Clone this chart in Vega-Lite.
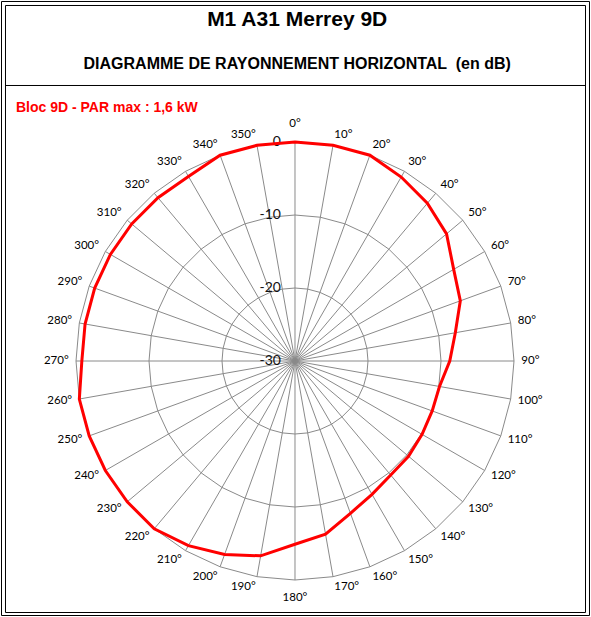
{
  "$schema": "https://vega.github.io/schema/vega-lite/v6.json",
  "width": 591,
  "height": 617,
  "autosize": "none",
  "padding": 0,
  "background": "white",
  "config": {"view": {"stroke": null}},
  "datasets": {
    "pattern": [
      {"angle": 0, "db": 0}, {"angle": 10, "db": 0}, {"angle": 20, "db": 0},
      {"angle": 30, "db": -0.9}, {"angle": 40, "db": -1.8}, {"angle": 50, "db": -2.9},
      {"angle": 60, "db": -4.9}, {"angle": 70, "db": -5.9}, {"angle": 80, "db": -7.7},
      {"angle": 90, "db": -8.8}, {"angle": 100, "db": -9.9}, {"angle": 110, "db": -10},
      {"angle": 120, "db": -9.9}, {"angle": 130, "db": -9.7}, {"angle": 140, "db": -9.6},
      {"angle": 150, "db": -8.9}, {"angle": 160, "db": -7.8}, {"angle": 170, "db": -5.9},
      {"angle": 180, "db": -4.9}, {"angle": 190, "db": -2.9}, {"angle": 200, "db": -1.8},
      {"angle": 210, "db": -0.8}, {"angle": 220, "db": 0}, {"angle": 230, "db": 0},
      {"angle": 240, "db": 0}, {"angle": 250, "db": 0}, {"angle": 260, "db": 0},
      {"angle": 270, "db": -0.8}, {"angle": 280, "db": -0.8}, {"angle": 290, "db": -0.8},
      {"angle": 300, "db": -0.8}, {"angle": 310, "db": -0.8}, {"angle": 320, "db": -0.8},
      {"angle": 330, "db": -0.8}, {"angle": 340, "db": 0}, {"angle": 350, "db": 0}
    ],
    "rings": [
      {"ring": -20, "angle": [0,10,20,30,40,50,60,70,80,90,100,110,120,130,140,150,160,170,180,190,200,210,220,230,240,250,260,270,280,290,300,310,320,330,340,350]},
      {"ring": -10, "angle": [0,10,20,30,40,50,60,70,80,90,100,110,120,130,140,150,160,170,180,190,200,210,220,230,240,250,260,270,280,290,300,310,320,330,340,350]},
      {"ring": 0, "angle": [0,10,20,30,40,50,60,70,80,90,100,110,120,130,140,150,160,170,180,190,200,210,220,230,240,250,260,270,280,290,300,310,320,330,340,350]}
    ],
    "levels": [{"level": -30}, {"level": -20}, {"level": -10}, {"level": 0}],
    "frames": [{"frame": "outer"}, {"frame": "inner"}],
    "texts": [
      {"role": "title", "label": "M1 A31 Merrey 9D"},
      {"role": "subtitle", "label": "DIAGRAMME DE RAYONNEMENT HORIZONTAL \u00a0(en dB)"},
      {"role": "note", "label": "Bloc 9D - PAR max : 1,6 kW"}
    ]
  },
  "layer": [
    {
      "data": {"name": "frames"},
      "transform": [
        {"calculate": "datum.frame == 'outer' ? -40.205 : -39.658", "as": "fx1"},
        {"calculate": "datum.frame == 'outer' ? 40.342 : 39.795", "as": "fx2"},
        {"calculate": "datum.frame == 'outer' ? 49.247 : 48.699", "as": "fy1"},
        {"calculate": "datum.frame == 'outer' ? -34.863 : -34.452", "as": "fy2"}
      ],
      "mark": {"type": "rect", "filled": false, "stroke": "#000000", "strokeWidth": 1},
      "encoding": {
        "x": {"field": "fx1", "type": "quantitative", "scale": {"domain": [-40.411, 40.548], "nice": false, "zero": false}, "axis": null},
        "x2": {"field": "fx2"},
        "y": {"field": "fy1", "type": "quantitative", "scale": {"domain": [-35.068, 49.452], "nice": false, "zero": false}, "axis": null},
        "y2": {"field": "fy2"}
      }
    },
    {
      "data": {"name": "frames"},
      "transform": [
        {"filter": "datum.frame == 'inner'"},
        {"calculate": "-39.658", "as": "sx1"},
        {"calculate": "39.795", "as": "sx2"},
        {"calculate": "37.74", "as": "sy"}
      ],
      "mark": {"type": "rule", "color": "#000000", "strokeWidth": 1},
      "encoding": {
        "x": {"field": "sx1", "type": "quantitative", "scale": {"domain": [-40.411, 40.548], "nice": false, "zero": false}, "axis": null},
        "x2": {"field": "sx2"},
        "y": {"field": "sy", "type": "quantitative", "scale": {"domain": [-35.068, 49.452], "nice": false, "zero": false}, "axis": null}
      }
    },
    {
      "data": {"name": "rings"},
      "transform": [
        {"flatten": ["angle"]},
        {"calculate": "datum.angle * PI / 180", "as": "rad"},
        {"calculate": "(datum.ring + 30) * sin(datum.rad)", "as": "rx"},
        {"calculate": "(datum.ring + 30) * cos(datum.rad)", "as": "ry"}
      ],
      "mark": {"type": "line", "interpolate": "linear-closed", "color": "#8a8a8a", "strokeWidth": 1},
      "encoding": {
        "x": {"field": "rx", "type": "quantitative", "scale": {"domain": [-40.411, 40.548], "nice": false, "zero": false}, "axis": null},
        "y": {"field": "ry", "type": "quantitative", "scale": {"domain": [-35.068, 49.452], "nice": false, "zero": false}, "axis": null},
        "detail": {"field": "ring", "type": "nominal"},
        "order": {"field": "angle", "type": "quantitative"}
      }
    },
    {
      "data": {"name": "pattern"},
      "transform": [
        {"calculate": "datum.angle * PI / 180", "as": "rad"},
        {"calculate": "0 * datum.angle", "as": "cx"},
        {"calculate": "0 * datum.angle", "as": "cy"},
        {"calculate": "30 * sin(datum.rad)", "as": "sx"},
        {"calculate": "30 * cos(datum.rad)", "as": "sy"}
      ],
      "mark": {"type": "rule", "color": "#8a8a8a", "strokeWidth": 1},
      "encoding": {
        "x": {"field": "cx", "type": "quantitative", "scale": {"domain": [-40.411, 40.548], "nice": false, "zero": false}, "axis": null},
        "y": {"field": "cy", "type": "quantitative", "scale": {"domain": [-35.068, 49.452], "nice": false, "zero": false}, "axis": null},
        "x2": {"field": "sx"},
        "y2": {"field": "sy"}
      }
    },
    {
      "data": {"name": "levels"},
      "transform": [
        {"calculate": "datum.level + 30", "as": "lr"},
        {"calculate": "0 * datum.level", "as": "lx"},
        {"calculate": "'' + datum.level", "as": "ltxt"}
      ],
      "mark": {"type": "text", "align": "right", "baseline": "middle", "dx": -14, "font": "Lato", "fontSize": 14, "color": "#111111"},
      "encoding": {
        "x": {"field": "lx", "type": "quantitative", "scale": {"domain": [-40.411, 40.548], "nice": false, "zero": false}, "axis": null},
        "y": {"field": "lr", "type": "quantitative", "scale": {"domain": [-35.068, 49.452], "nice": false, "zero": false}, "axis": null},
        "text": {"field": "ltxt", "type": "nominal"}
      }
    },
    {
      "data": {"name": "pattern"},
      "transform": [
        {"filter": "datum.angle > 0 && datum.angle < 180"},
        {"calculate": "datum.angle * PI / 180", "as": "rad"},
        {"calculate": "31 * sin(datum.rad)", "as": "lx"},
        {"calculate": "31.5 * cos(datum.rad)", "as": "ly"},
        {"calculate": "datum.angle + '°'", "as": "lab"}
      ],
      "mark": {"type": "text", "align": "left", "baseline": "middle", "font": "Lato", "fontSize": 11.5, "color": "#000000"},
      "encoding": {
        "x": {"field": "lx", "type": "quantitative", "scale": {"domain": [-40.411, 40.548], "nice": false, "zero": false}, "axis": null},
        "y": {"field": "ly", "type": "quantitative", "scale": {"domain": [-35.068, 49.452], "nice": false, "zero": false}, "axis": null},
        "text": {"field": "lab", "type": "nominal"}
      }
    },
    {
      "data": {"name": "pattern"},
      "transform": [
        {"filter": "datum.angle > 180"},
        {"calculate": "datum.angle * PI / 180", "as": "rad"},
        {"calculate": "31 * sin(datum.rad)", "as": "lx"},
        {"calculate": "31.5 * cos(datum.rad)", "as": "ly"},
        {"calculate": "datum.angle + '°'", "as": "lab"}
      ],
      "mark": {"type": "text", "align": "right", "baseline": "middle", "font": "Lato", "fontSize": 11.5, "color": "#000000"},
      "encoding": {
        "x": {"field": "lx", "type": "quantitative", "scale": {"domain": [-40.411, 40.548], "nice": false, "zero": false}, "axis": null},
        "y": {"field": "ly", "type": "quantitative", "scale": {"domain": [-35.068, 49.452], "nice": false, "zero": false}, "axis": null},
        "text": {"field": "lab", "type": "nominal"}
      }
    },
    {
      "data": {"name": "pattern"},
      "transform": [
        {"filter": "datum.angle == 0 || datum.angle == 180"},
        {"calculate": "datum.angle * PI / 180", "as": "rad"},
        {"calculate": "0 * datum.angle", "as": "lx"},
        {"calculate": "32.45 * cos(datum.rad)", "as": "ly"},
        {"calculate": "datum.angle + '°'", "as": "lab"}
      ],
      "mark": {"type": "text", "align": "center", "baseline": "middle", "font": "Lato", "fontSize": 11.5, "color": "#000000"},
      "encoding": {
        "x": {"field": "lx", "type": "quantitative", "scale": {"domain": [-40.411, 40.548], "nice": false, "zero": false}, "axis": null},
        "y": {"field": "ly", "type": "quantitative", "scale": {"domain": [-35.068, 49.452], "nice": false, "zero": false}, "axis": null},
        "text": {"field": "lab", "type": "nominal"}
      }
    },
    {
      "data": {"name": "pattern"},
      "transform": [
        {"calculate": "datum.angle * PI / 180", "as": "rad"},
        {"calculate": "(datum.db + 30) * sin(datum.rad)", "as": "px"},
        {"calculate": "(datum.db + 30) * cos(datum.rad)", "as": "py"}
      ],
      "mark": {"type": "line", "interpolate": "linear-closed", "color": "#ff0000", "strokeWidth": 3},
      "encoding": {
        "x": {"field": "px", "type": "quantitative", "scale": {"domain": [-40.411, 40.548], "nice": false, "zero": false}, "axis": null},
        "y": {"field": "py", "type": "quantitative", "scale": {"domain": [-35.068, 49.452], "nice": false, "zero": false}, "axis": null},
        "order": {"field": "angle", "type": "quantitative"}
      }
    },
    {
      "data": {"name": "texts"},
      "transform": [
        {"filter": "datum.role != 'note'"},
        {"calculate": "0.3", "as": "tx"},
        {"calculate": "datum.role == 'title' ? 46.71 : 40.68", "as": "ty"},
        {"calculate": "datum.role == 'title' ? 21 : 16", "as": "fs"}
      ],
      "mark": {"type": "text", "align": "center", "baseline": "middle", "font": "Liberation Sans", "fontWeight": "bold", "color": "#000000"},
      "encoding": {
        "x": {"field": "tx", "type": "quantitative", "scale": {"domain": [-40.411, 40.548], "nice": false, "zero": false}, "axis": null},
        "y": {"field": "ty", "type": "quantitative", "scale": {"domain": [-35.068, 49.452], "nice": false, "zero": false}, "axis": null},
        "size": {"field": "fs", "type": "quantitative", "scale": null, "legend": null},
        "text": {"field": "label", "type": "nominal"}
      }
    },
    {
      "data": {"name": "texts"},
      "transform": [
        {"filter": "datum.role == 'note'"},
        {"calculate": "-38.22", "as": "tx"},
        {"calculate": "34.66", "as": "ty"}
      ],
      "mark": {"type": "text", "align": "left", "baseline": "middle", "font": "Liberation Sans", "fontWeight": "bold", "fontSize": 14, "color": "#ff0000"},
      "encoding": {
        "x": {"field": "tx", "type": "quantitative", "scale": {"domain": [-40.411, 40.548], "nice": false, "zero": false}, "axis": null},
        "y": {"field": "ty", "type": "quantitative", "scale": {"domain": [-35.068, 49.452], "nice": false, "zero": false}, "axis": null},
        "text": {"field": "label", "type": "nominal"}
      }
    }
  ]
}
